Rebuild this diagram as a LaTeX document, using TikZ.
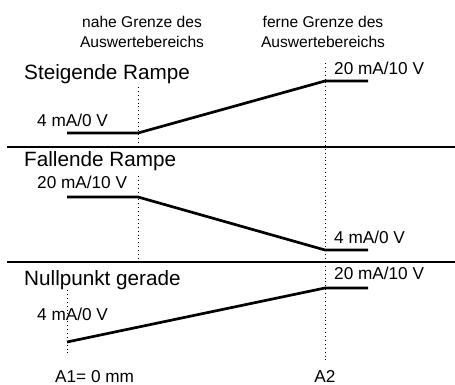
\documentclass[tikz,border=0pt]{standalone}
\usepackage{fontspec}
\setmainfont{Liberation Sans}
\usetikzlibrary{positioning}

\tikzset{
    signal/.style={line width=2.7pt,line join=miter},
    grenze/.style={line width=0.9pt,dash pattern=on 0.9pt off 3pt},
    trenner/.style={line width=1.2pt},
    titel/.style={anchor=base west,inner sep=0,font=\fontsize{20.7}{24}\selectfont},
    wert/.style={anchor=base west,inner sep=0,font=\fontsize{17.2}{20}\selectfont},
    kopf/.style={anchor=base,inner sep=0,align=center,font=\fontsize{15.6}{20}\selectfont}
}

\begin{document}
\begin{tikzpicture}[x=1pt,y=-1pt]
    \pgfmathsetmacro{\xnull}{67}
    \pgfmathsetmacro{\xnah}{138}
    \pgfmathsetmacro{\xfern}{325}
    \pgfmathsetmacro{\xende}{368}
    \useasboundingbox (0,0) rectangle (455,385);
    % Kopfzeile
    \node[kopf] (nah) at (142,48) {nahe Grenze des\\Auswertebereichs};
    \node[kopf] (fern) at (323,48) {ferne Grenze des\\Auswertebereichs};
    % Grenzen
    \coordinate (nahA) at (\xnah,87);
    \coordinate (nahB) at (\xnah,144);
    \coordinate (nahC) at (\xnah,176);
    \coordinate (nahD) at (\xnah,259);
    \coordinate (fernA) at (\xfern,63);
    \coordinate (fernB) at (\xfern,362);
    \coordinate (nullA) at (\xnull,290);
    \coordinate (nullB) at (\xnull,353);
    \draw[grenze] (nahA) -- (nahB);
    \draw[grenze] (nahC) -- (nahD);
    \draw[grenze] (fernA) -- (fernB);
    \draw[grenze] (nullA) -- (nullB);
    % Trennlinien
    \coordinate (t1a) at (7,147);
    \coordinate (t1b) at (455,147);
    \coordinate (t2a) at (7,262);
    \coordinate (t2b) at (455,262);
    \draw[trenner] (t1a) -- (t1b);
    \draw[trenner] (t2a) -- (t2b);
    % Steigende Rampe
    \node[titel] (steigend) at (24,80) {Steigende Rampe};
    \node[wert] (s4) at (37,127) {4 mA/0 V};
    \node[wert] (s20) at (334,75) {20 mA/10 V};
    \coordinate (s1) at (\xnull,133);
    \coordinate (s2) at (\xnah,133);
    \coordinate (s3) at (\xfern,81);
    \coordinate (s4e) at (\xende,81);
    \draw[signal] (s1) -- (s2) -- (s3) -- (s4e);
    % Fallende Rampe
    \node[titel] (fallend) at (24,166) {Fallende Rampe};
    \node[wert] (f20) at (37,188) {20 mA/10 V};
    \node[wert] (f4) at (334,243) {4 mA/0 V};
    \coordinate (f1) at (\xnull,197);
    \coordinate (f2) at (\xnah,197);
    \coordinate (f3) at (\xfern,250);
    \coordinate (f4e) at (\xende,250);
    \draw[signal] (f1) -- (f2) -- (f3) -- (f4e);
    % Nullpunkt gerade
    \node[titel] (nullpunkt) at (24,285) {Nullpunkt gerade};
    \node[wert] (n20) at (334,279) {20 mA/10 V};
    \node[wert] (n4) at (37,320) {4 mA/0 V};
    \coordinate (n1) at (\xnull,342);
    \coordinate (n2) at (\xfern,288);
    \coordinate (n3) at (\xende,288);
    \draw[signal] (n1) -- (n2) -- (n3);
    % Achse
    \node[wert] (a1) at (55,382) {A1= 0 mm};
    \node[wert,anchor=base] (a2) at (\xfern,382) {A2};
\end{tikzpicture}
\end{document}
